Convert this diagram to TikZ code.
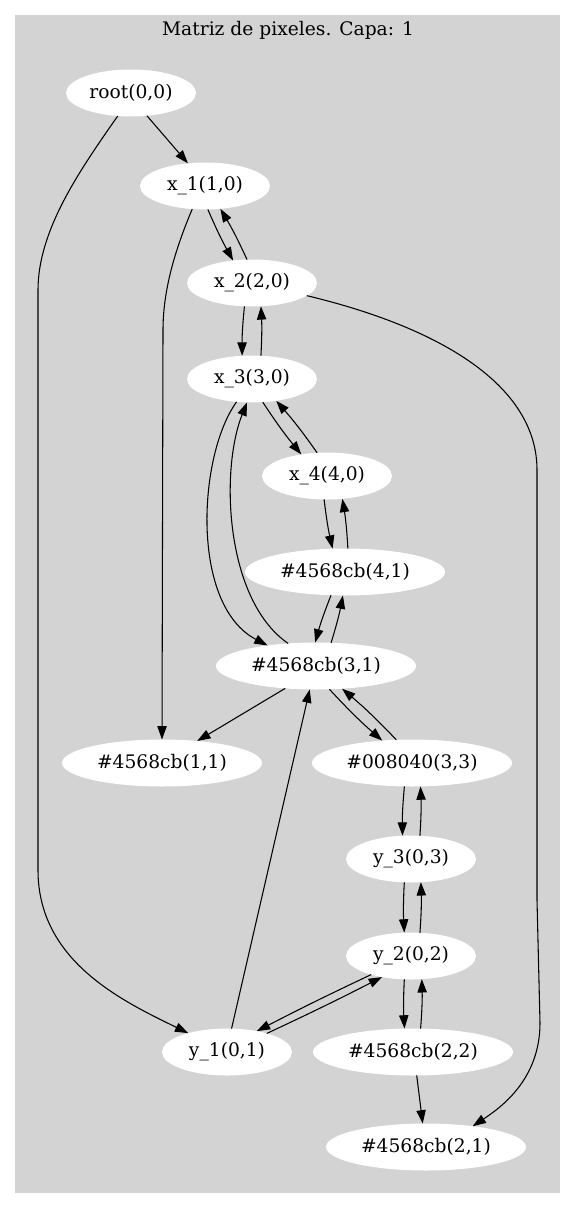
\documentclass[tikz,border=0pt]{standalone}
\usepackage{fontspec}
\setmainfont{DejaVu Serif}
\usetikzlibrary{arrows.meta,shapes.geometric}
\definecolor{cluster}{RGB}{211,211,211}
\begin{document}
\begin{tikzpicture}[x=0.75pt,y=-0.75pt,
  lbl/.style={font=\fontsize{14}{16}\selectfont},
  gn/.style={ellipse,fill=white,inner sep=0pt,outer sep=0pt,minimum height=35.25pt,minimum width=97.5pt,lbl},
  wn/.style={gn,minimum width=150pt},
  e/.style={-{Triangle[length=10pt,width=7pt]},line width=0.8pt},
  pr/.style={e,bend right=3}]
\path[use as bounding box,fill=white] (0,0) rectangle (576,1209);
\fill[cluster] (15,15) rectangle (560,1193);
\node[lbl] (title) at (288,30) {Matriz de pixeles. Capa: 1};
\node[gn] (root) at (131,93) {root(0,0)};
\node[gn] (x1) at (205,186) {x\_1(1,0)};
\node[gn] (x2) at (252,283) {x\_2(2,0)};
\node[gn] (x3) at (252,379) {x\_3(3,0)};
\node[gn] (x4) at (327,476) {x\_4(4,0)};
\node[wn] (b41) at (345,572) {\#4568cb(4,1)};
\node[wn] (b31) at (316,666) {\#4568cb(3,1)};
\node[wn] (b11) at (162,763) {\#4568cb(1,1)};
\node[wn] (g33) at (412,763) {\#008040(3,3)};
\node[gn] (y3) at (411,859) {y\_3(0,3)};
\node[gn] (y2) at (411,956) {y\_2(0,2)};
\node[gn] (y1) at (227,1052) {y\_1(0,1)};
\node[wn] (b22) at (413,1052) {\#4568cb(2,2)};
\node[wn] (b21) at (426,1147) {\#4568cb(2,1)};
\draw[e] (root.305) -- (x1.127);
\draw[e] (root.240) .. controls (80,170) and (38,230) .. (38,290) -- (38,870) .. controls (38,960) and (120,1000) .. (y1.154);
\draw[e] (x1.241) .. controls (175,250) and (163,290) .. (163,330) -- (b11.north);
\draw[pr] (x1.277) to (x2.130);
\draw[pr] (x2.102) to (x1.304);
\draw[pr] (x2.252) to (x3.113);
\draw[pr] (x3.69) to (x2.291);
\draw[e] (x2.347) .. controls (450,330) and (537,390) .. (537,470) -- (537,900) -- (540,1023) .. controls (540,1080) and (500,1108) .. (b21.24);
\draw[e] (x3.236) .. controls (198,455) and (190,605) .. (b31.157);
\draw[e] (b31.141) .. controls (225,600) and (220,470) .. (x3.258);
\draw[pr] (x3.295) to (x4.140);
\draw[pr] (x4.113) to (x3.318);
\draw[pr] (x4.263) to (b41.118);
\draw[pr] (b41.83) to (x4.304);
\draw[pr] (b41.239) to (b31.92);
\draw[pr] (b31.57) to (b41.265);
\draw[e] (b31.216) -- (b11.32);
\draw[pr] (b31.300) to (g33.143);
\draw[pr] (g33.124) to (b31.319);
\draw[pr] (g33.252) to (y3.110);
\draw[pr] (y3.69) to (g33.290);
\draw[pr] (y3.254) to (y2.106);
\draw[pr] (y2.69) to (y3.293);
\draw[e] (y2.205) to[bend right=1] (y1.35);
\draw[e] (y1.25) to[bend right=1] (y2.216);
\draw[e] (y1.79) -- (b31.255);
\draw[pr] (y2.254) to (b22.110);
\draw[pr] (b22.72) to (y2.295);
\draw[e] (b22.279) -- (b21.98);
\end{tikzpicture}
\end{document}
